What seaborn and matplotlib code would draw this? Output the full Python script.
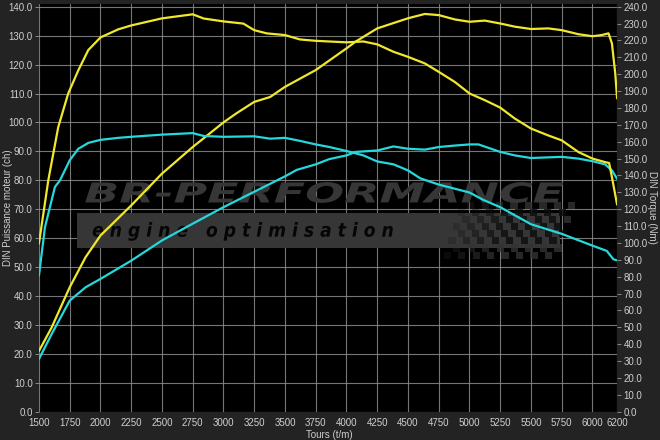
"""
Dyno chart: stock vs. stage power (ch, left) and torque (Nm, right)
against engine speed, BR-Performance style.
"""

import matplotlib
matplotlib.use("Agg")
import matplotlib.pyplot as plt
import seaborn as sns
from matplotlib.font_manager import FontProperties
from matplotlib.patches import PathPatch, Rectangle
from matplotlib.textpath import TextPath
from matplotlib.transforms import Affine2D

# ─────────────────────────────────────────────────────────────────────────────
#  DATA
# ─────────────────────────────────────────────────────────────────────────────

# optimised power (ch)
rpm_pwr_tuned = [1500, 1603, 1750, 1879, 2000, 2250, 2500, 2750, 3000, 3100,
                 3250, 3380, 3500, 3750, 4000, 4073, 4250, 4500, 4637, 4750,
                 4881, 5000, 5125, 5250, 5369, 5500, 5641, 5750, 5885, 6000,
                 6075, 6130, 6158, 6185, 6200]
pwr_tuned = [21.0, 29.1, 43.0, 53.4, 60.9, 71.3, 82.3, 91.5, 100.0, 103.0,
             107.1, 108.8, 112.3, 118.1, 125.6, 127.9, 132.5, 136.0, 137.5, 137.1,
             135.6, 134.8, 135.2, 134.2, 133.1, 132.3, 132.5, 131.9, 130.5, 129.8,
             130.2, 130.8, 127.3, 116.9, 108.3]

# stock power (ch)
rpm_pwr_stock = [1500, 1603, 1750, 1879, 2000, 2250, 2500, 2750, 3000, 3258,
                 3502, 3596, 3750, 3858, 4000, 4073, 4250, 4382, 4500, 4637,
                 4750, 4881, 5000, 5073, 5250, 5369, 5500, 5750, 5885, 6000,
                 6103, 6158, 6200]
pwr_stock = [18.2, 26.8, 38.4, 43.0, 45.9, 52.2, 59.2, 65.0, 70.7, 76.2,
             81.4, 83.6, 85.5, 87.3, 88.6, 89.8, 90.3, 91.7, 90.9, 90.6,
             91.5, 92.0, 92.4, 92.4, 89.8, 88.6, 87.7, 88.1, 87.5, 86.6,
             85.5, 83.4, 80.5]

# optimised torque (Nm)
rpm_trq_tuned = [1500, 1576, 1657, 1738, 1820, 1901, 2000, 2145, 2250, 2500,
                 2750, 2840, 3000, 3162, 3250, 3352, 3500, 3622, 3750, 3858,
                 4000, 4137, 4250, 4382, 4500, 4637, 4750, 4881, 5000, 5125,
                 5250, 5369, 5500, 5641, 5750, 5885, 6000, 6103, 6135, 6158,
                 6200]
trq_tuned = [99.6, 137.1, 168.7, 188.6, 202.3, 214.3, 221.8, 226.6, 228.9, 233.1,
             235.5, 233.0, 231.3, 230.0, 226.1, 224.2, 223.2, 220.6, 219.8, 219.4,
             218.9, 219.4, 217.7, 213.3, 210.3, 206.4, 201.4, 195.4, 188.6, 184.6,
             180.2, 173.7, 167.8, 163.7, 160.8, 153.9, 150.0, 147.9, 147.4, 139.0,
             122.7]

# stock torque (Nm)
rpm_trq_stock = [1500, 1549, 1630, 1671, 1750, 1820, 1901, 2000, 2145, 2250,
                 2500, 2750, 2840, 3000, 3250, 3380, 3500, 3622, 3750, 3858,
                 4000, 4137, 4250, 4382, 4500, 4600, 4750, 5000, 5113, 5250,
                 5500, 5750, 6000, 6116, 6170, 6200]
trq_stock = [80.6, 109.4, 133.2, 137.1, 149.0, 155.8, 159.3, 161.1, 162.3, 162.9,
             164.2, 165.1, 163.4, 162.9, 163.2, 161.8, 162.3, 160.5, 158.4, 156.9,
             154.5, 151.9, 148.3, 146.6, 143.0, 138.3, 134.6, 129.9, 125.5, 121.2,
             111.1, 105.4, 98.4, 95.3, 90.3, 89.7]

x_ticks = [1500, 1750, 2000, 2250, 2500, 2750, 3000, 3250, 3500, 3750,
           4000, 4250, 4500, 4750, 5000, 5250, 5500, 5750, 6000, 6200]
pwr_ticks = list(range(0, 141, 10))
trq_ticks = list(range(0, 241, 10))

YELLOW = "#f0e82c"
CYAN = "#25d8dc"
TEXT = "#cfcfcf"
WM = "#363636"     # watermark grey


# ─────────────────────────────────────────────────────────────────────────────
#  HELPERS
# ─────────────────────────────────────────────────────────────────────────────

def stamp(ax, s, box, color, zorder=1.0):
    """Draw text s stretched to fill box=(x0, y0, x1, y1) in axes fractions."""
    fp = FontProperties(family="DejaVu Sans", weight="bold", style="italic")
    tp = TextPath((0, 0), s, size=1, prop=fp)
    ext = tp.get_extents()
    x0, y0, x1, y1 = box
    tr = (Affine2D().translate(-ext.x0, -ext.y0)
          .scale((x1 - x0) / ext.width, (y1 - y0) / ext.height)
          .translate(x0, y0) + ax.transAxes)
    ax.add_patch(PathPatch(tp, transform=tr, fc=color, ec="none", zorder=zorder))


def watermark(ax):
    stamp(ax, "BR-PERFORMANCE", (0.080, 0.512, 0.907, 0.563), WM)
    ax.add_patch(Rectangle((0.066, 0.402), 0.835, 0.085, transform=ax.transAxes,
                           fc=WM, ec="none", zorder=1.0))
    # chequered flag on the right of the banner
    w, h = 0.0125, 0.0175
    for i in range(16):
        for j in range(8):
            if (i + j) % 2:
                continue
            x = 0.70 + i * w + j * 0.004
            y = 0.375 + j * h
            fade = min(0.8, 0.2 + i / 12)
            inside = 0.402 <= y <= 0.487 and x <= 0.90
            ax.add_patch(Rectangle((x, y), w, h, transform=ax.transAxes,
                                   fc="#0c0c0c" if inside else "#333333",
                                   ec="none", alpha=fade, zorder=1.1))
    stamp(ax, "e n g i n e   o p t i m i s a t i o n",
          (0.093, 0.419, 0.612, 0.465), "#050505", zorder=1.2)


# ─────────────────────────────────────────────────────────────────────────────
#  PLOT
# ─────────────────────────────────────────────────────────────────────────────

sns.set_theme(style="dark")
plt.rcParams["font.family"] = ["Liberation Sans", "DejaVu Sans"]

fig = plt.figure(figsize=(6.6, 4.4), dpi=100, facecolor="#232323")
ax = fig.add_axes([0.059, 0.0643, 0.876, 0.927])
ax.set_facecolor("black")
ax2 = ax.twinx()

PWR_MAX = 141.0
ax.set_xlim(1500, 6200)
ax.set_ylim(0, PWR_MAX)
ax2.set_ylim(0, PWR_MAX * 240 / 140)

watermark(ax)

line_kw = dict(lw=1.6, solid_joinstyle="round", solid_capstyle="round")
sns.lineplot(x=rpm_pwr_stock, y=pwr_stock, ax=ax, color=CYAN, **line_kw)
sns.lineplot(x=rpm_pwr_tuned, y=pwr_tuned, ax=ax, color=YELLOW, **line_kw)
sns.lineplot(x=rpm_trq_stock, y=trq_stock, ax=ax2, color=CYAN, **line_kw)
sns.lineplot(x=rpm_trq_tuned, y=trq_tuned, ax=ax2, color=YELLOW, **line_kw)

ax.set_xticks(x_ticks)
ax.set_xticklabels([str(t) for t in x_ticks])
ax.set_yticks(pwr_ticks)
ax.set_yticklabels([f"{t:.1f}" for t in pwr_ticks])
ax2.set_yticks(trq_ticks)
ax2.set_yticklabels([f"{t:.1f}" for t in trq_ticks])

ax.grid(True, color="#8c8c8c", lw=0.8, alpha=0.85)
ax2.grid(False)

for a in (ax, ax2):
    a.tick_params(colors=TEXT, labelsize=7, length=3, width=0.6, pad=1.5)
    for sp in a.spines.values():
        sp.set_visible(False)
ax.tick_params(axis="both", color="#9a9a9a")
ax2.tick_params(axis="y", color="#9a9a9a")

ax.set_xlabel("Tours (t/m)", color=TEXT, fontsize=7)
ax.xaxis.set_label_coords(0.503, -0.045)
ax.set_ylabel("DIN Puissance moteur (ch)", color=TEXT, fontsize=7)
ax.yaxis.set_label_coords(-0.045, 0.5)
ax2.set_ylabel("DIN Torque (Nm)", color=TEXT, fontsize=7, rotation=-90,
               va="center")
ax2.yaxis.set_label_coords(1.061, 0.5)

fig.savefig("out.png", dpi=100, facecolor=fig.get_facecolor())
plt.close(fig)
